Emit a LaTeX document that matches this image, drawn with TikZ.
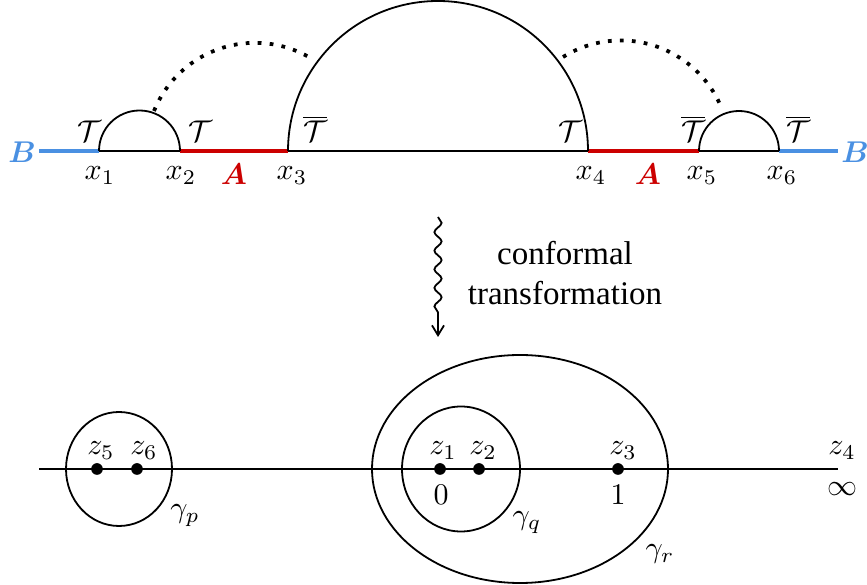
\documentclass[tikz,border=0pt]{standalone}
\usepackage{amsmath}
\usepackage{fontspec}
\newfontfamily\wordfont{Liberation Serif}
\usetikzlibrary{decorations.pathmorphing,arrows.meta}

\begin{document}
\begin{tikzpicture}[x=0.3333pt,y=0.3333pt,
    plane/.style={line width=0.6pt},
    cut/.style={line width=1.3pt},
    dotline/.style={line width=1.25pt,dash pattern=on 1.25pt off 2.75pt},
    lbl/.style={inner sep=0pt,anchor=base},
    pt/.style={circle,fill,inner sep=0pt,minimum size=3.9pt}]
  \definecolor{regionA}{RGB}{204,0,0}
  \definecolor{regionB}{RGB}{74,144,226}
  \useasboundingbox (0,0) rectangle (867,585);
  % upper half plane
  \coordinate (Bl) at (39,434);
  \coordinate (x1) at (99,434);
  \coordinate (x2) at (180,434);
  \coordinate (x3) at (288,434);
  \coordinate (x4) at (588,434);
  \coordinate (x5) at (699,434);
  \coordinate (x6) at (779,434);
  \coordinate (Br) at (838,434);
  \draw[cut,regionB] (Bl) -- (x1) (x6) -- (Br);
  \draw[cut,regionA] (x2) -- (x3) (x4) -- (x5);
  \draw[plane] (x1) -- (x2) (x3) -- (x4) (x5) -- (x6);
  \draw[plane] (x1) arc[start angle=180,end angle=0,radius=40.5];
  \draw[plane] (x3) arc[start angle=180,end angle=0,radius=150];
  \draw[plane] (x5) arc[start angle=180,end angle=0,radius=40];
  \coordinate (d1) at (154,474);
  \coordinate (d2) at (563,528);
  \draw[dotline] (d1) arc[start angle=158,end angle=58,radius=109];
  \draw[dotline] (d2) arc[start angle=122,end angle=22,radius=109];
  \node[lbl] (t1) at (89,443) {$\mathcal{T}$};
  \node[lbl] (t2) at (200,443) {$\mathcal{T}$};
  \node[lbl] (t3) at (315,443) {$\overline{\mathcal{T}}$};
  \node[lbl] (t4) at (570,443) {$\mathcal{T}$};
  \node[lbl] (t5) at (693,443) {$\overline{\mathcal{T}}$};
  \node[lbl] (t6) at (798,443) {$\overline{\mathcal{T}}$};
  \node[lbl] (lx1) at (100,405) {$x_1$};
  \node[lbl] (lx2) at (181,405) {$x_2$};
  \node[lbl] (lx3) at (292,405) {$x_3$};
  \node[lbl] (lx4) at (591,405) {$x_4$};
  \node[lbl] (lx5) at (702,405) {$x_5$};
  \node[lbl] (lx6) at (782,405) {$x_6$};
  \node[lbl,regionA] (A1) at (234,400) {$\boldsymbol{A}$};
  \node[lbl,regionA] (A2) at (648,400) {$\boldsymbol{A}$};
  \node[lbl,regionB] (B1) at (22,422) {$\boldsymbol{B}$};
  \node[lbl,regionB] (B2) at (855,422) {$\boldsymbol{B}$};
  % the map
  \coordinate (wtop) at (438,368);
  \coordinate (wbot) at (438,248);
  \draw[plane,decorate,decoration={snake,amplitude=1.2pt,segment length=6.2pt,post length=7pt},
    -{Straight Barb[length=3.3pt,width=4pt]}] (wtop) -- (wbot);
  \node[align=center,font=\wordfont\fontsize{11}{13.2}\selectfont] (conf) at (565,312)
    {conformal\\transformation};
  % z plane
  \coordinate (al) at (39,116);
  \coordinate (ar) at (838,116);
  \draw[plane] (al) -- (ar);
  \coordinate (cp) at (119,116);
  \coordinate (cq) at (461,116);
  \coordinate (cr) at (520,116);
  \draw[plane] (cp) ellipse[x radius=53,y radius=57];
  \draw[plane] (cq) ellipse[x radius=59,y radius=62.5];
  \draw[plane] (cr) ellipse[x radius=148,y radius=114];
  \node[pt] (z5) at (97,116) {};
  \node[pt] (z6) at (137,116) {};
  \node[pt] (z1) at (440,116) {};
  \node[pt] (z2) at (479,116) {};
  \node[pt] (z3) at (618,116) {};
  \node[lbl] (lz5) at (101,130) {$z_5$};
  \node[lbl] (lz6) at (144,130) {$z_6$};
  \node[lbl] (lz1) at (443,130) {$z_1$};
  \node[lbl] (lz2) at (483,130) {$z_2$};
  \node[lbl] (lz3) at (623,130) {$z_3$};
  \node[lbl] (lz4) at (842,130) {$z_4$};
  \node[lbl] (n0) at (441,80) {$0$};
  \node[lbl] (n1) at (618,80) {$1$};
  \node[lbl] (ninf) at (842,89) {$\infty$};
  \node[lbl] (gp) at (185,67) {$\gamma_p$};
  \node[lbl] (gq) at (527,60) {$\gamma_q$};
  \node[lbl] (gr) at (660,27) {$\gamma_r$};
\end{tikzpicture}
\end{document}
